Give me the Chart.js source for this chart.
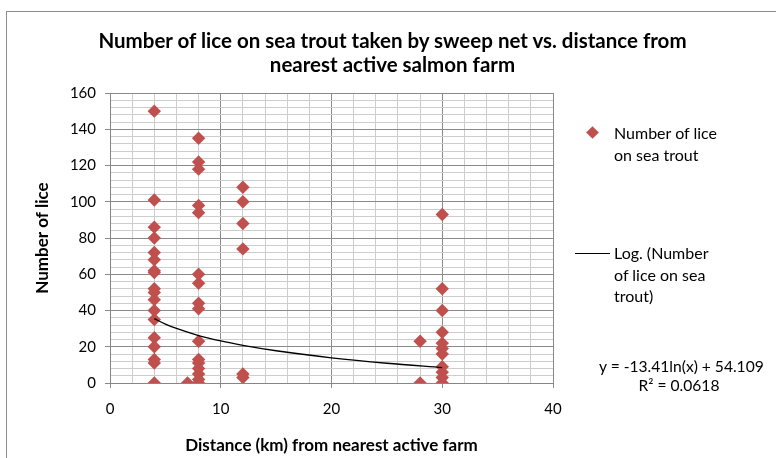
<!DOCTYPE html>
<html>
<head>
<meta charset="utf-8">
<script src="https://cdn.jsdelivr.net/npm/chart.js@4.4.0/dist/chart.umd.min.js"></script>
<style>
    body { margin: 0; background: #fff; }
    #wrap { position: relative; width: 776px; height: 458px; overflow: hidden; font-family: Lato, "Liberation Sans", sans-serif; color: #000; }
    #frame { position: absolute; left: 6px; top: 11px; width: 820px; height: 520px; border: 1px solid #8c8c8c; }
    canvas { position: absolute; left: 0; top: 0; }
    .title { position: absolute; left: 0; width: 785px; text-align: center; font-weight: bold; font-size: 20.5px; line-height: 24px; }
    .leg { position: absolute; font-size: 16px; line-height: 21.5px; }
    .eq { position: absolute; left: 599px; width: 160px; text-align: center; font-size: 15.6px; line-height: 19px; white-space: nowrap; }
    .diamond { position: absolute; width: 9px; height: 9px; background: #c0504d; transform: rotate(45deg); }
    .trendkey { position: absolute; height: 0; border-top: 1.5px solid #000; }
</style>
</head>
<body>
<div id="wrap">
    <div id="frame"></div>
    <canvas id="liceChart" width="776" height="458"></canvas>
    <div class="title" style="top:28px">Number of lice on sea trout taken by sweep net vs. distance from<br>nearest active salmon farm</div>

    <div class="diamond" style="left:588px; top:128px"></div>
    <div class="leg" style="left:614px; top:122px">Number of lice<br>on sea trout</div>

    <div class="trendkey" style="left:575px; top:253px; width:35px"></div>
    <div class="leg" style="left:614px; top:242px">Log. (Number<br>of lice on sea<br>trout)</div>

    <div class="eq" style="top:357px">y = -13.41ln(x) + 54.109<br>R² = 0.0618</div>
</div>

<script>
// Sampling sites (km from nearest active farm) and lice counts
const liceAt4km = [150, 101, 86, 80, 72, 68, 62, 61, 52, 50, 46, 40, 35, 25, 20, 13, 11, 0];
const liceAt7km = [0];
const liceAt8km = [135, 122, 118, 98, 94, 60, 55, 44, 41, 23, 13, 11, 8, 5, 2, 0];
const liceAt12km = [108, 100, 88, 74, 5, 3];
const liceAt28km = [23, 0];
const liceAt30km = [93, 52, 40, 28, 22, 19, 16, 9, 6, 3, 0];

// Log trendline as drawn
const trendX = [4, 5, 6, 8, 10, 12, 15, 20, 25, 30];
const trendY = [35.5, 32.5, 30.1, 26.2, 23.2, 20.8, 17.8, 13.9, 10.9, 8.5];

const sites = [
    { km: 4, counts: liceAt4km },
    { km: 7, counts: liceAt7km },
    { km: 8, counts: liceAt8km },
    { km: 12, counts: liceAt12km },
    { km: 28, counts: liceAt28km },
    { km: 30, counts: liceAt30km }
];

const samplePoints = [];
sites.forEach(site => {
    site.counts.forEach(n => samplePoints.push({ x: site.km, y: n }));
});

const trendPoints = trendX.map((x, i) => ({ x: x, y: trendY[i] }));

const MAJOR = '#8a8a8a';
const MINOR = '#cdcdcd';
const tickFont = { family: 'Lato', size: 15 };
const titleFont = { family: 'Lato', size: 17, weight: 'bold' };

new Chart(document.getElementById('liceChart'), {
    type: 'scatter',
    data: {
        datasets: [
            {
                label: 'Log. (Number of lice on sea trout)',
                data: trendPoints,
                showLine: true,
                borderColor: '#000',
                borderWidth: 1.3,
                pointRadius: 0,
                cubicInterpolationMode: 'monotone'
            },
            {
                label: 'Number of lice on sea trout',
                data: samplePoints,
                pointStyle: 'rectRot',
                pointRadius: 6.7,
                backgroundColor: '#c0504d',
                borderColor: '#c0504d',
                borderWidth: 0
            }
        ]
    },
    options: {
        responsive: false,
        animation: false,
        layout: { padding: { left: 32, right: 223, top: 93, bottom: 0 } },
        plugins: {
            legend: { display: false },
            tooltip: { enabled: false }
        },
        scales: {
            x: {
                type: 'linear',
                min: 0,
                max: 40,
                afterFit: scale => { scale.height = 75; },
                ticks: {
                    stepSize: 2,
                    autoSkip: false,
                    maxRotation: 0,
                    padding: 12,
                    color: '#000',
                    font: tickFont,
                    callback: v => (v % 10 === 0 ? v : '')
                },
                grid: {
                    color: ctx => (ctx.tick && ctx.tick.value % 10 === 0 ? MAJOR : MINOR),
                    tickColor: ctx => (ctx.tick && ctx.tick.value % 10 === 0 ? MAJOR : 'rgba(0,0,0,0)'),
                    tickLength: 5
                },
                border: { color: '#868686' },
                title: {
                    display: true,
                    text: 'Distance (km) from nearest active farm',
                    color: '#000',
                    font: titleFont,
                    padding: { top: 0, bottom: 2 }
                }
            },
            y: {
                min: 0,
                max: 160,
                afterFit: scale => { scale.width = 78; },
                ticks: {
                    stepSize: 4,
                    autoSkip: false,
                    padding: 9,
                    color: '#000',
                    font: tickFont,
                    callback: v => (v % 20 === 0 ? v : '')
                },
                grid: {
                    color: ctx => (ctx.tick && ctx.tick.value % 20 === 0 ? MAJOR : MINOR),
                    tickColor: ctx => (ctx.tick && ctx.tick.value % 20 === 0 ? MAJOR : 'rgba(0,0,0,0)'),
                    tickLength: 5
                },
                border: { color: '#868686' },
                title: {
                    display: true,
                    text: 'Number of lice',
                    color: '#000',
                    font: titleFont,
                    padding: { top: 0, bottom: 0 }
                }
            }
        }
    }
});
</script>
</body>
</html>
